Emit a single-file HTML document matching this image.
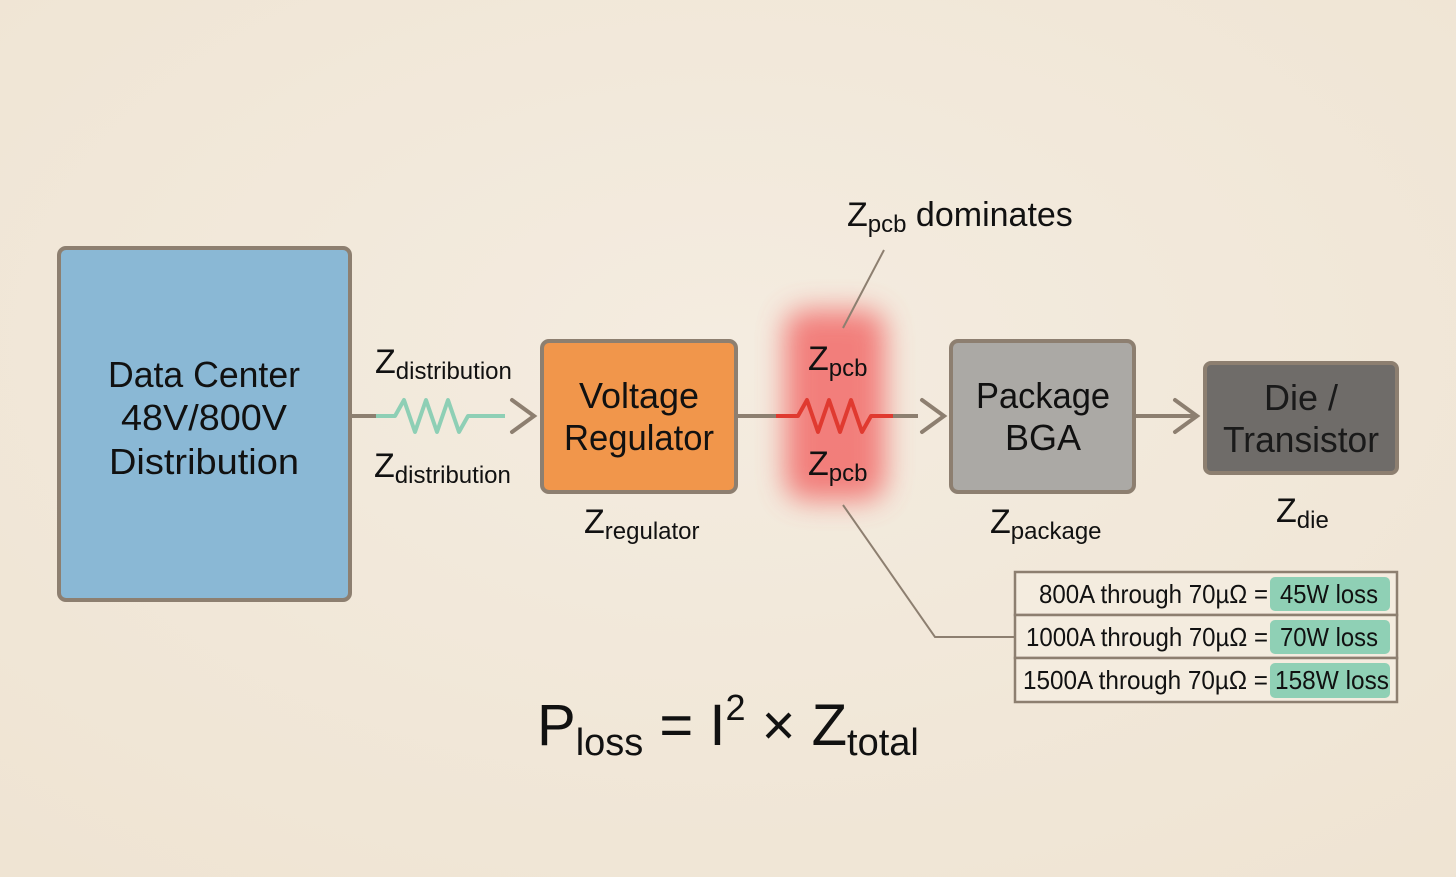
<!DOCTYPE html>
<html><head><meta charset="utf-8"><style>
html,body{margin:0;padding:0;background:#f3e9da;}
svg{display:block;font-family:"Liberation Sans",sans-serif;}
</style></head><body>
<svg width="1456" height="877" viewBox="0 0 1456 877" xmlns="http://www.w3.org/2000/svg">
<defs>
<radialGradient id="bg" cx="50%" cy="40%" r="75%"><stop offset="0" stop-color="#f4ece0"/><stop offset="1" stop-color="#efe4d3"/></radialGradient>
<filter id="blur" x="-50%" y="-50%" width="200%" height="200%"><feGaussianBlur stdDeviation="14"/></filter>
</defs>
<rect width="1456" height="877" fill="url(#bg)"/>
<rect x="785" y="310" width="100" height="190" rx="20" fill="#f25a5a" opacity="0.75" filter="url(#blur)"/>

<rect x="59" y="248" width="291" height="352" rx="7" fill="#8ab8d5" stroke="#8d7f70" stroke-width="4"/>
<g font-size="36" fill="#111" text-anchor="middle">
<text x="204" y="387" textLength="192" lengthAdjust="spacingAndGlyphs">Data Center</text>
<text x="204" y="430" textLength="166" lengthAdjust="spacingAndGlyphs">48V/800V</text>
<text x="204" y="474" textLength="190" lengthAdjust="spacingAndGlyphs">Distribution</text>
</g>

<line x1="350" y1="416" x2="378" y2="416" stroke="#8d7f70" stroke-width="4"/>
<polyline points="376,416 395,416 404,400 415,432 426,400 437,432 448,400 459,432 468,416 505,416" fill="none" stroke="#8ecfb5" stroke-width="4" stroke-linejoin="round"/>
<polyline points="512,400 534,416 512,432" fill="none" stroke="#8d7f70" stroke-width="4" stroke-linecap="round"/>

<rect x="542" y="341" width="194" height="151" rx="7" fill="#f1964b" stroke="#8d7f70" stroke-width="4"/>
<g font-size="36" fill="#111" text-anchor="middle">
<text x="639" y="408" textLength="120" lengthAdjust="spacingAndGlyphs">Voltage</text>
<text x="639" y="450" textLength="150" lengthAdjust="spacingAndGlyphs">Regulator</text>
</g>

<line x1="736" y1="416" x2="778" y2="416" stroke="#8d7f70" stroke-width="4"/>
<polyline points="776,416 798,416 807,400 818,432 829,400 840,432 851,400 862,432 871,416 895,416" fill="none" stroke="#e03a30" stroke-width="4" stroke-linejoin="round"/>
<line x1="893" y1="416" x2="918" y2="416" stroke="#8d7f70" stroke-width="4"/>
<polyline points="922,400 944,416 922,432" fill="none" stroke="#8d7f70" stroke-width="4" stroke-linecap="round"/>

<rect x="951" y="341" width="183" height="151" rx="7" fill="#aba9a5" stroke="#8d7f70" stroke-width="4"/>
<g font-size="36" fill="#111" text-anchor="middle">
<text x="1043" y="408" textLength="134" lengthAdjust="spacingAndGlyphs">Package</text>
<text x="1043" y="450">BGA</text>
</g>

<line x1="1134" y1="416" x2="1195" y2="416" stroke="#8d7f70" stroke-width="4"/>
<polyline points="1175,400 1197,416 1175,432" fill="none" stroke="#8d7f70" stroke-width="4" stroke-linecap="round"/>

<rect x="1205" y="363" width="192" height="110" rx="6" fill="#6f6c69" stroke="#8d7f70" stroke-width="4"/>
<g font-size="36" fill="#1a1a1a" text-anchor="middle">
<text x="1301" y="410">Die /</text>
<text x="1301" y="452" textLength="156" lengthAdjust="spacingAndGlyphs">Transistor</text>
</g>

<g fill="#111">
<text x="375" y="373" font-size="34">Z<tspan font-size="24" dy="6">distribution</tspan></text>
<text x="374" y="477" font-size="34">Z<tspan font-size="24" dy="6">distribution</tspan></text>
<text x="808" y="370" font-size="34">Z<tspan font-size="24" dy="6">pcb</tspan></text>
<text x="808" y="475" font-size="34">Z<tspan font-size="24" dy="6">pcb</tspan></text>
<text x="584" y="533" font-size="34">Z<tspan font-size="24" dy="6">regulator</tspan></text>
<text x="990" y="533" font-size="34">Z<tspan font-size="24" dy="6">package</tspan></text>
<text x="1276" y="522" font-size="34">Z<tspan font-size="24" dy="6">die</tspan></text>
<text x="847" y="226" font-size="34">Z<tspan font-size="24" dy="6">pcb</tspan><tspan dy="-6" font-size="34"> dominates</tspan></text>
</g>

<line x1="884" y1="250" x2="843" y2="328" stroke="#8d7f70" stroke-width="2"/>
<polyline points="843,505 935,637 1015,637" fill="none" stroke="#8d7f70" stroke-width="2"/>

<g stroke="#8d7f70" stroke-width="2.5" fill="#f4ecdf">
<rect x="1015" y="572" width="382" height="43"/>
<rect x="1015" y="615" width="382" height="43"/>
<rect x="1015" y="658" width="382" height="44"/>
</g>
<g fill="#8fd0b5">
<rect x="1270" y="577" width="120" height="34" rx="5"/>
<rect x="1270" y="620" width="120" height="34" rx="5"/>
<rect x="1270" y="663" width="120" height="35" rx="5"/>
</g>
<g font-size="26" fill="#111">
<text x="1039" y="603" textLength="229" lengthAdjust="spacingAndGlyphs">800A through 70µΩ =</text>
<text x="1280" y="603" textLength="98" lengthAdjust="spacingAndGlyphs">45W loss</text>
<text x="1026" y="646" textLength="242" lengthAdjust="spacingAndGlyphs">1000A through 70µΩ =</text>
<text x="1280" y="646" textLength="98" lengthAdjust="spacingAndGlyphs">70W loss</text>
<text x="1023" y="689" textLength="245" lengthAdjust="spacingAndGlyphs">1500A through 70µΩ =</text>
<text x="1275" y="689" textLength="114" lengthAdjust="spacingAndGlyphs">158W loss</text>
</g>

<g fill="#111">
<text x="537" y="745" font-size="58">P<tspan font-size="38" dy="10">loss</tspan><tspan font-size="58" dy="-10"> = I</tspan><tspan font-size="36" dy="-25">2</tspan><tspan font-size="58" dy="25"> × Z</tspan><tspan font-size="38" dy="10">total</tspan></text>
</g>
</svg>
</body></html>
